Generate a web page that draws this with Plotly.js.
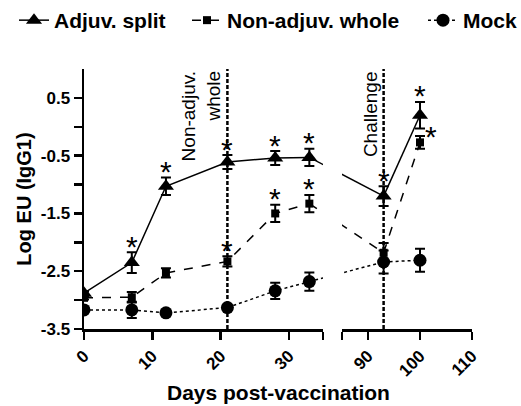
<!DOCTYPE html>
<html>
<head>
<meta charset="utf-8">
<script src="https://cdn.plot.ly/plotly-3.0.1.min.js"></script>
<style>html,body{margin:0;padding:0;background:#fff;}#chart{width:521px;height:406px;}</style>
</head>
<body>
<div id="chart"></div>
<script>
// ---- data ----
const days = [0, 7, 12, 21, 28, 33, 93, 100];
const adjSplit    = [-2.88, -2.35, -1.03, -0.61, -0.54, -0.53, -1.20, 0.20];
const adjSplitErr = [0.03, 0.18, 0.15, 0.12, 0.12, 0.15, 0.17, 0.23];
const nonAdj      = [-2.96, -2.95, -2.53, -2.33, -1.50, -1.33, -2.18, -0.27];
const nonAdjErr   = [0.03, 0.09, 0.08, 0.09, 0.15, 0.15, 0.17, 0.11];
const mock        = [-3.17, -3.17, -3.22, -3.13, -2.84, -2.68, -2.34, -2.31];
const mockErr     = [0.03, 0.14, 0.05, 0.04, 0.14, 0.16, 0.20, 0.20];
// significance stars: '' none, 'up' above, 'right' to the right
const adjSig  = ['', 'up', 'up', 'up', 'up', 'up', 'up', 'up'];
const nonSig  = ['', '', '', 'up', 'up', 'up', '', 'right'];
const mockSig = ['', '', '', '', '', '', '', ''];
const seriesNames = ['Adjuv. split', 'Non-adjuv. whole', 'Mock'];
const eventDays = [21, 93];
const eventLabels = ['Non-adjuv.<br>whole', 'Challenge'];
const yTickVals = [-3.5, -3, -2.5, -2, -1.5, -1, -0.5, 0, 0.5];
const yTickText = ['-3.5', '', '-2.5', '', '-1.5', '', '-0.5', '', '0.5'];
const xLeftTickVals = [0, 10, 20, 30, 35];
const xLeftTickText = ['0', '10', '20', '30', ''];
const xRightTickVals = [85, 90, 100, 110];
const xRightTickText = ['', '90', '100', '110'];

// ---- layout constants ----
const FONT = 'Liberation Sans, Arial, Helvetica, sans-serif';
const W = 521, H = 406;
const margin = {l: 84, r: 49, t: 69, b: 77, pad: 0};
const plotW = W - margin.l - margin.r;
const plotH = H - margin.t - margin.b;
const xLeft = {domain: [0, 0.616], range: [0, 35]};
const xRight = {domain: [0.665, 1], range: [85, 110]};
const leftMax = xLeft.range[1];
const legendX = [14, 187, 423];

function toPx(ax, d) {
  return plotW * (ax.domain[0] + (ax.domain[1] - ax.domain[0]) * (d - ax.range[0]) / (ax.range[1] - ax.range[0]));
}
function fromPx(ax, px) {
  const f = (px / plotW - ax.domain[0]) / (ax.domain[1] - ax.domain[0]);
  return ax.range[0] + f * (ax.range[1] - ax.range[0]);
}

const styles = [
  {symbol: 'triangle-up', size: 14, dash: 'solid'},
  {symbol: 'square', size: 8, dash: 'dash'},
  {symbol: 'circle', size: 13, dash: 'dot'}
];
const values = [adjSplit, nonAdj, mock];
const errs = [adjSplitErr, nonAdjErr, mockErr];
const sigs = [adjSig, nonSig, mockSig];
const legendIds = ['legend', 'legend2', 'legend3'];

const traces = [];
const annotations = [];
values.forEach((vals, s) => {
  const st = styles[s];
  const li = [], ri = [];
  days.forEach((d, i) => (d <= leftMax ? li : ri).push(i));
  const common = {
    type: 'scatter', mode: 'lines+markers',
    line: {color: '#000', width: 1.5, dash: st.dash},
    marker: {symbol: st.symbol, size: st.size, color: '#000'},
    yaxis: 'y', legendgroup: 'g' + s, name: seriesNames[s], legend: legendIds[s]
  };
  traces.push(Object.assign({}, common, {
    x: li.map(i => days[i]), y: li.map(i => vals[i]),
    error_y: {type: 'data', array: li.map(i => errs[s][i]), color: '#000', thickness: 2, width: 5},
    xaxis: 'x', showlegend: true
  }));
  traces.push(Object.assign({}, common, {
    x: ri.map(i => days[i]), y: ri.map(i => vals[i]),
    error_y: {type: 'data', array: ri.map(i => errs[s][i]), color: '#000', thickness: 2, width: 5},
    xaxis: 'x2', showlegend: false
  }));
  // bridge across the axis break (straight on screen)
  const a = li[li.length - 1], b = ri[0];
  const bLeftX = fromPx(xLeft, toPx(xRight, days[b]));
  const aRightX = fromPx(xRight, toPx(xLeft, days[a]));
  traces.push({type: 'scatter', mode: 'lines', x: [days[a], bLeftX], y: [vals[a], vals[b]],
    line: {color: '#000', width: 1.5, dash: st.dash}, xaxis: 'x', yaxis: 'y', showlegend: false, hoverinfo: 'skip'});
  traces.push({type: 'scatter', mode: 'lines', x: [aRightX, days[b]], y: [vals[a], vals[b]],
    line: {color: '#000', width: 1.5, dash: st.dash}, xaxis: 'x2', yaxis: 'y', showlegend: false, hoverinfo: 'skip'});
  // stars
  days.forEach((d, i) => {
    const p = sigs[s][i];
    if (!p) return;
    annotations.push({
      x: d, y: vals[i] + errs[s][i], xref: d <= leftMax ? 'x' : 'x2', yref: 'y',
      text: '*', showarrow: false, xanchor: 'center', yanchor: 'middle',
      xshift: p === 'right' ? 11 : 0, yshift: p === 'right' ? 0 : 6,
      font: {family: FONT, size: 30, color: '#000'}
    });
  });
});

const shapes = eventDays.map(d => ({
  type: 'line', xref: d <= leftMax ? 'x' : 'x2', yref: 'paper',
  x0: d, x1: d, y0: 0, y1: 1,
  line: {color: '#000', width: 2.5, dash: '4px,2px'}
}));
eventDays.forEach((d, k) => {
  annotations.push({
    x: d, xref: d <= leftMax ? 'x' : 'x2', y: 1, yref: 'paper',
    text: eventLabels[k], textangle: -90, showarrow: false,
    xanchor: 'right', yanchor: 'top', align: 'right', xshift: -1,
    font: {family: FONT, size: 19, color: '#000'}
  });
});

const axisCommon = {
  showline: true, linecolor: '#000', linewidth: 2.5, ticks: 'outside', ticklen: 8,
  tickwidth: 2.5, tickcolor: '#000', showgrid: false, zeroline: false, fixedrange: true,
  tickfont: {family: FONT, size: 17, color: '#000', weight: 'bold'}
};

const legendCommon = {
  orientation: 'h', xref: 'container', xanchor: 'left', y: 1, yref: 'container', yanchor: 'top',
  font: {family: FONT, size: 21, color: '#000', weight: 'bold'}, bgcolor: 'rgba(0,0,0,0)'
};

const layout = {
  width: W, height: H, margin: margin,
  paper_bgcolor: '#fff', plot_bgcolor: '#fff',
  showlegend: true,
  legend: Object.assign({}, legendCommon, {x: legendX[0] / W}),
  legend2: Object.assign({}, legendCommon, {x: legendX[1] / W}),
  legend3: Object.assign({}, legendCommon, {x: legendX[2] / W}),
  xaxis: Object.assign({}, axisCommon, {domain: xLeft.domain, range: xLeft.range, anchor: 'y',
    tickmode: 'array', tickvals: xLeftTickVals, ticktext: xLeftTickText, tickangle: -45}),
  xaxis2: Object.assign({}, axisCommon, {domain: xRight.domain, range: xRight.range, anchor: 'y',
    tickmode: 'array', tickvals: xRightTickVals, ticktext: xRightTickText, tickangle: -45}),
  yaxis: Object.assign({}, axisCommon, {range: [-3.5, 1.0], anchor: 'x',
    tickmode: 'array', tickvals: yTickVals, ticktext: yTickText,
    title: {text: 'Log EU (IgG1)', font: {family: FONT, size: 20, color: '#000', weight: 'bold'}, standoff: 4}}),
  annotations: annotations.concat([{
    text: 'Days post-vaccination', xref: 'paper', yref: 'paper', x: 0.5, y: -(392 - (H - margin.b)) / plotH,
    xanchor: 'center', yanchor: 'middle', showarrow: false,
    font: {family: FONT, size: 21, color: '#000', weight: 'bold'}
  }]),
  shapes: shapes
};

Plotly.newPlot('chart', traces, layout, {displayModeBar: false, staticPlot: true});
</script>
</body>
</html>
